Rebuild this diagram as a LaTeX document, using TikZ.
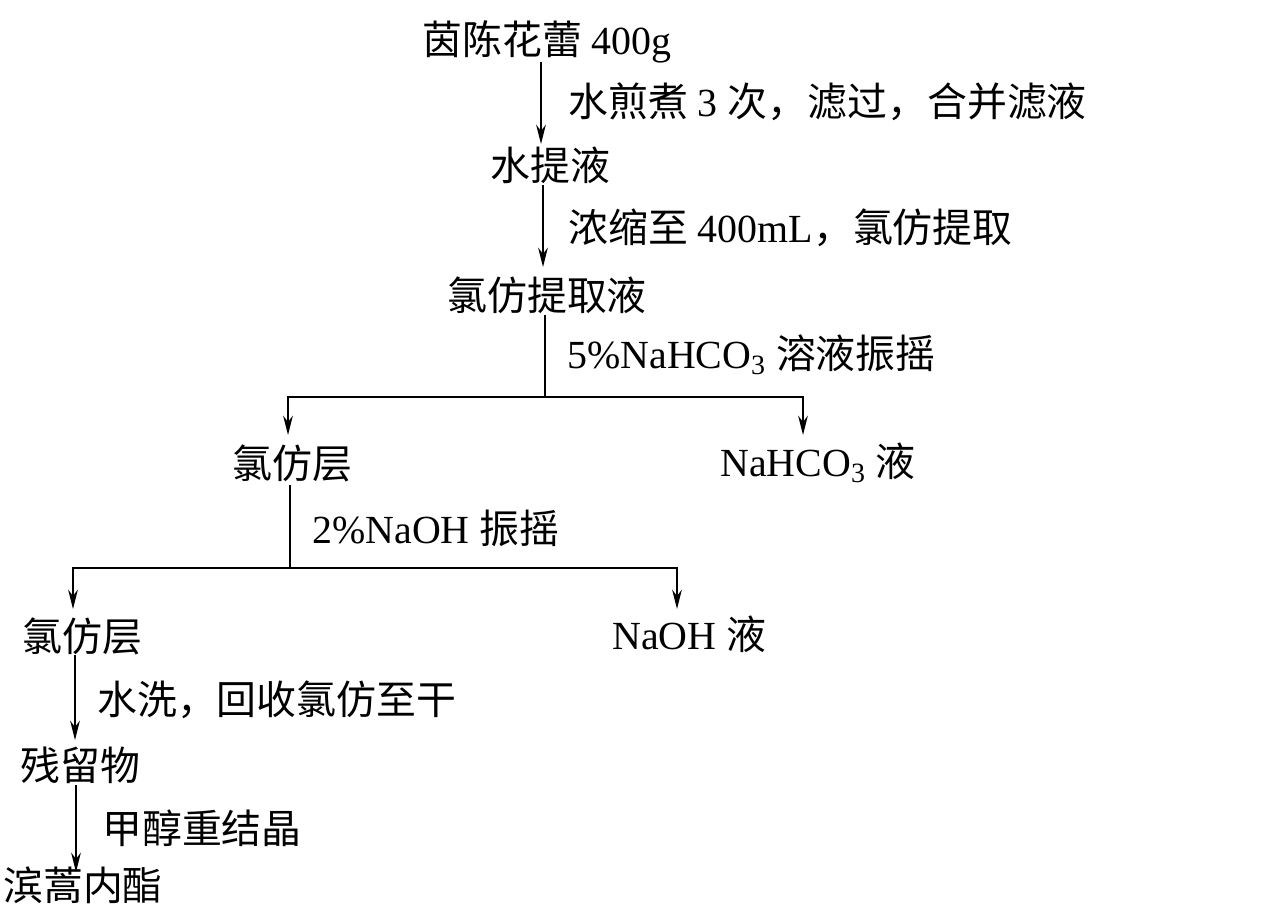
\documentclass[tikz,border=0pt]{standalone}
\usepackage{fontspec}
\setmainfont{Liberation Serif}
\newfontfamily\cjk{Noto Sans CJK SC}
\usetikzlibrary{arrows.meta}
\newcommand\zh[1]{{\cjk #1}}
\begin{document}
\begin{tikzpicture}[x=0.02cm,y=-0.02cm,
  lbl/.style={anchor=west, inner sep=0pt, font=\fontsize{22.7}{27}\selectfont},
  arr/.style={line width=1pt, -{Stealth[length=11pt,width=5.5pt]}},
  ln/.style={line width=1pt}]
\useasboundingbox (0,0) rectangle (1269,914);
% nodes
\node[lbl] (n1) at (422,42) {\zh{茵陈花蕾} 400g};
\node[lbl] (l1) at (568,102) {\zh{水煎煮} 3 \zh{次，滤过，合并滤液}};
\node[lbl] (n2) at (490,165) {\zh{水提液}};
\node[lbl] (l2) at (568,228) {\zh{浓缩至} 400mL\zh{，氯仿提取}};
\node[lbl] (n3) at (447,295) {\zh{氯仿提取液}};
\node[lbl] (l3) at (567,355) {5\%NaHCO\textsubscript{3} \zh{溶液振摇}};
\node[lbl] (n4) at (232,463) {\zh{氯仿层}};
\node[lbl] (n5) at (720,463) {NaHCO\textsubscript{3} \zh{液}};
\node[lbl] (l4) at (312,528) {2\%NaOH \zh{振摇}};
\node[lbl] (n6) at (22,636) {\zh{氯仿层}};
\node[lbl] (n7) at (612,634) {NaOH \zh{液}};
\node[lbl] (l5) at (97,700) {\zh{水洗，回收氯仿至干}};
\node[lbl] (n8) at (20,765) {\zh{残留物}};
\node[lbl] (l6) at (102,828) {\zh{甲醇重结晶}};
\node[lbl] (n9) at (3,885) {\zh{滨蒿内酯}};
% connector points
\coordinate (a1s) at (541,62);  \coordinate (a1e) at (541,144);
\coordinate (a2s) at (543,185); \coordinate (a2e) at (543,267);
\coordinate (b1s) at (545,315); \coordinate (b1m) at (545,397);
\coordinate (b1l) at (288,397); \coordinate (b1r) at (803,397);
\coordinate (b1le) at (288,435); \coordinate (b1re) at (803,435);
\coordinate (b2s) at (290,485); \coordinate (b2m) at (290,568);
\coordinate (b2l) at (73,568);  \coordinate (b2r) at (677,568);
\coordinate (b2le) at (73,609); \coordinate (b2re) at (677,609);
\coordinate (a3s) at (75,655);  \coordinate (a3e) at (75,740);
\coordinate (a4s) at (76,785);  \coordinate (a4e) at (76,872);
% connectors
\draw[arr] (a1s) -- (a1e);
\draw[arr] (a2s) -- (a2e);
\draw[ln] (b1s) -- (b1m);
\draw[arr] (b1m) -- (b1l) -- (b1le);
\draw[arr] (b1m) -- (b1r) -- (b1re);
\draw[ln] (b2s) -- (b2m);
\draw[arr] (b2m) -- (b2l) -- (b2le);
\draw[arr] (b2m) -- (b2r) -- (b2re);
\draw[arr] (a3s) -- (a3e);
\draw[arr] (a4s) -- (a4e);
\end{tikzpicture}
\end{document}
